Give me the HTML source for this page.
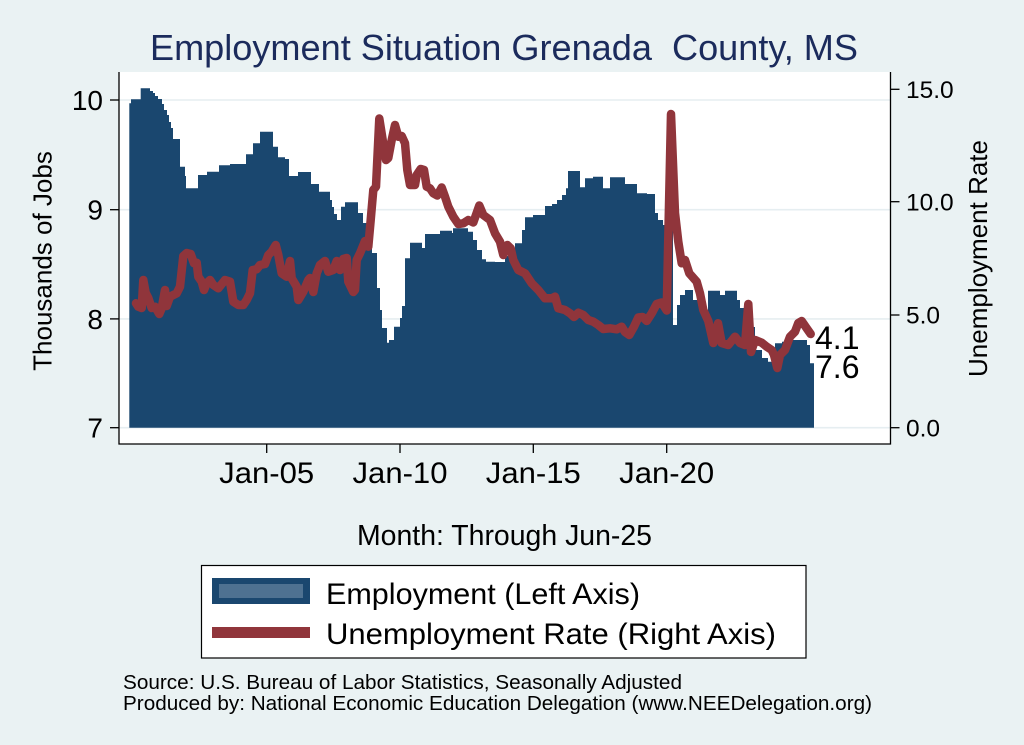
<!DOCTYPE html>
<html>
<head>
<meta charset="utf-8">
<style>
  html,body{margin:0;padding:0;background:#eaf2f3;}
  svg{display:block;}
  text{font-family:"Liberation Sans", Arial, Helvetica, sans-serif;}
</style>
</head>
<body>
<svg width="1024" height="745" viewBox="0 0 1024 745" xmlns="http://www.w3.org/2000/svg">
  <rect x="0" y="0" width="1024" height="745" fill="#eaf2f3"/>
  <!-- plot region -->
  <rect x="119" y="72" width="771.5" height="372" fill="#ffffff"/>
  <!-- gridlines -->
  <g stroke="#e6eef1" stroke-width="1.6">
    <line x1="119" y1="100" x2="890.5" y2="100"/>
    <line x1="119" y1="209.7" x2="890.5" y2="209.7"/>
    <line x1="119" y1="318.9" x2="890.5" y2="318.9"/>
    <line x1="119" y1="427.7" x2="890.5" y2="427.7"/>
  </g>
  <!-- employment area -->
  <path fill="#1a476f" d="M129.3,427.7 L129.3,103.3 L131,103.3 L131,99.3 L140.7,99.3 L140.7,88.3 L150,88.3 L150,91 L153,91 L153,93 L155,93 L155,96 L158,96 L158,99 L162,99 L162,104 L164,104 L164,110 L167,110 L167,115 L169,115 L169,122 L171,122 L171,128 L173,128 L173,139 L180,139 L180,166.7 L185,166.7 L185,176 L186,176 L186,188.3 L198,188.3 L198,175 L207,175 L207,171.7 L219,171.7 L219,165.3 L230,165.3 L230,164 L246,164 L246,154.3 L253,154.3 L253,143.3 L260,143.3 L260,131.7 L273,131.7 L273,146.7 L278,146.7 L278,157.3 L285,157.3 L285,159 L289,159 L289,176 L298,176 L298,172 L311,172 L311,184 L319,184 L319,191.7 L330,191.7 L330,200 L332,200 L332,207 L334,207 L334,214 L337,214 L337,220 L341,220 L341,206.7 L345,206.7 L345,202.3 L358,202.3 L358,213 L363,213 L363,223 L367,223 L367,233 L372,233 L372,253 L377,253 L377,288 L380,288 L380,310 L382,310 L382,328 L387,328 L387,342.7 L389,342.7 L389,340 L394,340 L394,326.7 L400,326.7 L400,318 L402,318 L402,306 L405,306 L405,258.3 L410,258.3 L410,242.7 L422,242.7 L422,248 L425,248 L425,234 L440,234 L440,230.7 L452,230.7 L452,233 L453,233 L453,228.3 L468,228.3 L468,231.7 L473,231.7 L473,240 L477,240 L477,250 L482,250 L482,259.3 L486,259.3 L486,261.7 L495,261.7 L495,262 L505,262 L505,256 L515,256 L515,243.3 L522,243.3 L522,230 L525,230 L525,217.3 L533,217.3 L533,215 L545,215 L545,206 L552,206 L552,204 L557,204 L557,200 L562,200 L562,195 L566,195 L566,188.3 L568,188.3 L568,171 L580,171 L580,187.3 L585,187.3 L585,178.3 L593,178.3 L593,176.7 L603,176.7 L603,188.3 L610,188.3 L610,177.3 L625,177.3 L625,184 L637,184 L637,193.3 L647,193.3 L647,194 L655,194 L655,213 L658,213 L658,220 L663,220 L663,225 L670,225 L670,230 L673,230 L673,325 L677,325 L677,305 L680,305 L680,295 L685,295 L685,290 L693,290 L693,300 L700,300 L700,310 L708,310 L708,290.7 L720,290.7 L720,295 L725,295 L725,290.7 L737,290.7 L737,300 L740,300 L740,308 L745,308 L745,327 L755,327 L755,350 L762,350 L762,358 L768,358 L768,361.7 L775,361.7 L775,343.3 L782,343.3 L782,341.7 L790,341.7 L790,340 L807,340 L807,345 L810,345 L810,363.3 L814,363.3 L814,427.7 Z"/>
  <!-- unemployment line -->
  <polyline fill="none" stroke="#90353b" stroke-width="8.5" stroke-linejoin="round" stroke-linecap="round" points="136,303.3 138.3,306.7 141.7,308 143.3,280 145.7,293 148.3,298 151.7,308 155,306.7 159.3,314 161.7,308.3 165,290 166.7,306 170,296.7 176.7,293.3 180,286.7 183.3,256 186.7,253 190.7,254 194,263.3 196.7,262.7 198.3,276.7 201.7,281.7 204,290 206.7,283.3 210,280 213.3,285 218.3,288.3 225,280 230,281.7 233.3,301.7 238.3,305 243.3,305 246.7,300 250,293.3 252.7,270 256.7,269.3 260,265 265,264 268.3,255 271.7,251.7 275.7,245 278.3,255 281.7,273.3 286.7,276.7 290,261 291.7,278.3 296.7,286.7 298.3,300 303.3,291.7 308.3,280 310,278 313.3,292 316.7,273.3 320,265 325,261 328.3,271.7 333.3,270 336.7,261 340,270 343.3,259 346.7,258 348.3,281.7 353.3,292 355,290 356.7,260 360,253.3 365,241 368.3,246.7 370.7,220 373.3,190 376,186.7 379.3,118.5 382.7,140 386,160 388.3,158 391.7,140 395,125 398.3,136.7 401.7,136 405,143.3 407.3,170 410,185 415,185 416.7,175 420.7,169 424,170 426.7,186.7 430,188.3 433.3,193.3 437.3,195.5 441.7,187.5 445,196.7 448.3,206.7 453.3,216.7 458.3,224 463.3,223.3 468.3,220 473.3,222.5 479.3,205.5 483.3,215 490,220 495,233.3 500,241.7 503.3,255 507.3,245 510.7,248.3 513.3,260 518.3,270 525,273.3 531.7,283.3 538.3,290 545,298.3 551.7,298.3 555,296.7 558.3,308.3 565,310 570,313.3 574,317 578.3,312.7 583.3,315 588.3,320 593.3,321.7 598.3,325 603.3,329 610,328.3 616.7,329.3 621.7,326.7 625,332 629.3,335 634,326.7 638.3,317.5 642.7,317 646.7,321 651.7,313.3 656.7,304 661.7,302.5 666.7,310.5 671,114 675,213 678.3,241.7 681.7,263.3 685,260 689.3,273.3 696.7,281.7 700,293.3 703.3,310 708.3,321 713.3,343 718,323.3 721.7,343 728.3,345 735,336.7 740,343 745,345 748.3,304 751,352 755,340 761.7,342.7 766.7,346.7 771.7,350 774,355 777.3,368 780,355 785,350 790,336.7 795,331.7 798.3,323 801.7,321 806.7,328.3 810.7,334"/>
  <!-- axes -->
  <g stroke="#000" stroke-width="1.3" fill="none">
    <polyline points="119,72 119,444 890.5,444 890.5,72"/>
    <line x1="110" y1="100" x2="119" y2="100"/>
    <line x1="110" y1="209.7" x2="119" y2="209.7"/>
    <line x1="110" y1="318.9" x2="119" y2="318.9"/>
    <line x1="110" y1="427.7" x2="119" y2="427.7"/>
    <line x1="890.5" y1="89.3" x2="899.5" y2="89.3"/>
    <line x1="890.5" y1="201.7" x2="899.5" y2="201.7"/>
    <line x1="890.5" y1="315" x2="899.5" y2="315"/>
    <line x1="890.5" y1="427.7" x2="899.5" y2="427.7"/>
    <line x1="266.7" y1="444" x2="266.7" y2="453"/>
    <line x1="400" y1="444" x2="400" y2="453"/>
    <line x1="533.3" y1="444" x2="533.3" y2="453"/>
    <line x1="666.7" y1="444" x2="666.7" y2="453"/>
  </g>
  <!-- title -->
  <text x="504" y="60" font-size="36" fill="#1b2b5c" text-anchor="middle" textLength="708" lengthAdjust="spacingAndGlyphs" xml:space="preserve">Employment Situation Grenada  County, MS</text>
  <!-- left tick labels -->
  <g font-size="28" fill="#000" text-anchor="end">
    <text x="103" y="110">10</text>
    <text x="103" y="219.7">9</text>
    <text x="103" y="329">8</text>
    <text x="103" y="437.7">7</text>
  </g>
  <!-- right tick labels -->
  <g font-size="24.5" fill="#000">
    <text x="906" y="98">15.0</text>
    <text x="906" y="210.3">10.0</text>
    <text x="906" y="323.6">5.0</text>
    <text x="906" y="436.3">0.0</text>
  </g>
  <!-- axis titles -->
  <text transform="translate(51.7,261) rotate(-90)" font-size="26" fill="#000" text-anchor="middle">Thousands of Jobs</text>
  <text transform="translate(987,258.5) rotate(-90)" font-size="26" fill="#000" text-anchor="middle">Unemployment Rate</text>
  <!-- x tick labels -->
  <g font-size="30" fill="#000" text-anchor="middle">
    <text x="266.7" y="483" textLength="95" lengthAdjust="spacingAndGlyphs">Jan-05</text>
    <text x="400" y="483" textLength="95" lengthAdjust="spacingAndGlyphs">Jan-10</text>
    <text x="533.3" y="483" textLength="95" lengthAdjust="spacingAndGlyphs">Jan-15</text>
    <text x="666.7" y="483" textLength="95" lengthAdjust="spacingAndGlyphs">Jan-20</text>
  </g>
  <text x="504.5" y="545" font-size="28.5" fill="#000" text-anchor="middle" textLength="295" lengthAdjust="spacingAndGlyphs">Month: Through Jun-25</text>
  <!-- end labels -->
  <text x="815" y="349" font-size="32" fill="#000">4.1</text>
  <text x="815" y="378" font-size="32" fill="#000">7.6</text>
  <!-- legend -->
  <rect x="201.5" y="565.5" width="604.5" height="92.5" fill="#ffffff" stroke="#000" stroke-width="1.2"/>
  <rect x="212" y="578" width="98" height="26" fill="#1a476f"/>
  <rect x="219" y="584" width="84" height="14" fill="#4e7191"/>
  <rect x="212" y="627" width="98" height="11" fill="#90353b"/>
  <text x="326" y="604" font-size="30" fill="#000" textLength="314" lengthAdjust="spacingAndGlyphs">Employment (Left Axis)</text>
  <text x="326" y="644" font-size="30" fill="#000" textLength="450" lengthAdjust="spacingAndGlyphs">Unemployment Rate (Right Axis)</text>
  <!-- footer -->
  <text x="123" y="689" font-size="20.5" fill="#000" textLength="559" lengthAdjust="spacingAndGlyphs">Source: U.S. Bureau of Labor Statistics, Seasonally Adjusted</text>
  <text x="123" y="710" font-size="20.5" fill="#000" textLength="749" lengthAdjust="spacingAndGlyphs">Produced by: National Economic Education Delegation (www.NEEDelegation.org)</text>
</svg>
</body>
</html>
